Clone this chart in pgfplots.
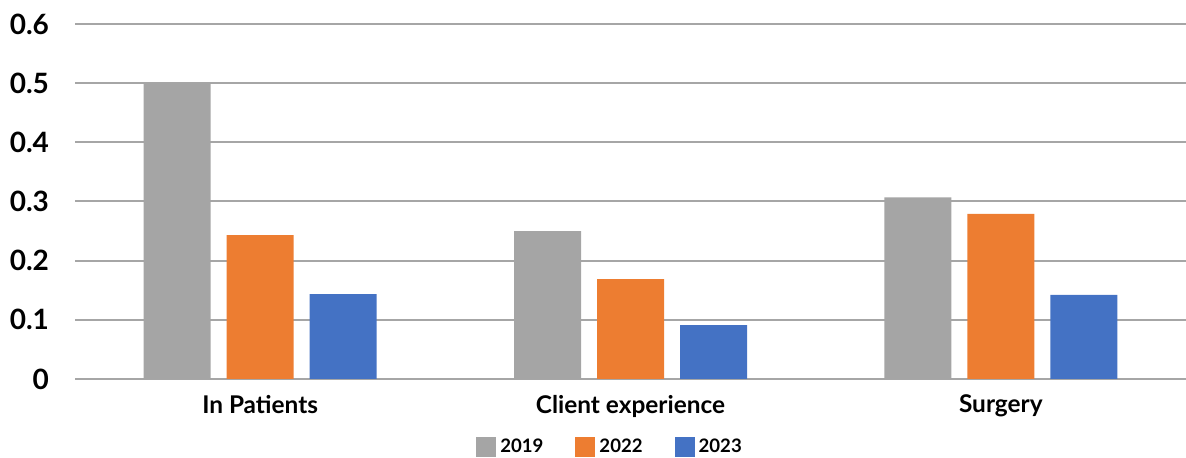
\documentclass[border=0pt]{standalone}
\usepackage{fontspec}
\setmainfont{Lato}
\usepackage{pgfplots}
\pgfplotsset{compat=1.18}
\definecolor{cgray}{HTML}{A5A5A5}
\definecolor{corange}{HTML}{ED7D31}
\definecolor{cblue}{HTML}{4472C4}
\definecolor{cgrid}{HTML}{A6A6A6}
\begin{document}
\begin{tikzpicture}
\begin{axis}[
  scale only axis,
  width=555.5pt, height=177.5pt,
  ybar=8pt, bar width=33.5pt,
  xmin=-0.5, xmax=2.5,
  ymin=0, ymax=0.6,
  ytick={0,0.1,0.2,0.3,0.4,0.5,0.6},
  yticklabels={0,0.1,0.2,0.3,0.4,0.5,0.6},
  xtick=data,
  xticklabels={In Patients,Client experience,Surgery},
  /pgf/number format/assume math mode=true,
  axis line style={draw=none},
  major tick length=0pt,
  ymajorgrids, grid style={cgrid, line width=1pt},
  yticklabel style={font=\bfseries\fontsize{14}{16}\selectfont, xshift=-9.5pt},
  xticklabel style={font=\bfseries\fontsize{12.2}{14}\selectfont, yshift=-4.5pt},
  legend style={at={(0.4825,-0.1915)}, anchor=center, draw=none, legend columns=3,
    font=\bfseries\fontsize{9.3}{11}\selectfont,
    /tikz/every even column/.append style={column sep=14pt}},
  legend image code/.code={\fill[#1] (0pt,-5pt) rectangle (10pt,5pt);},
  clip=false,
]
\addplot[fill=cgray, draw=none] coordinates {(0,0.5) (1,0.25) (2,0.307)};
\addplot[fill=corange, draw=none] coordinates {(0,0.243) (1,0.169) (2,0.279)};
\addplot[fill=cblue, draw=none] coordinates {(0,0.1436) (1,0.091) (2,0.142)};
\legend{2019,2022,2023}
\end{axis}
\pgfresetboundingbox
\path ([xshift=-37.5pt, yshift=-39.5pt]current axis.south west) rectangle ([yshift=12pt]current axis.north east);
\end{tikzpicture}
\end{document}
